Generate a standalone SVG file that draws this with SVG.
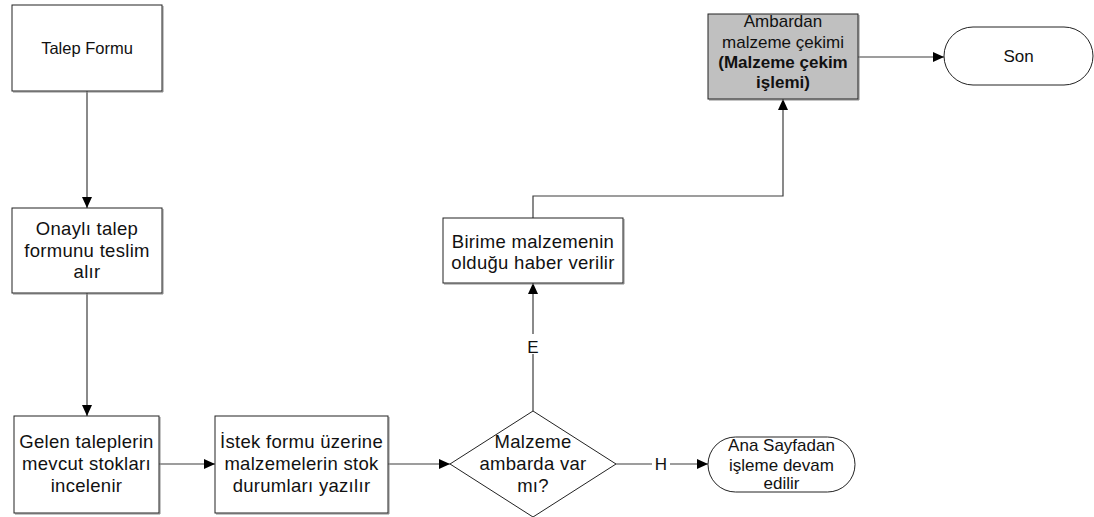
<svg xmlns="http://www.w3.org/2000/svg" width="1094" height="517" viewBox="0 0 1094 517">
  <style>
    .box { fill: #ffffff; stroke: #222222; stroke-width: 1; }
    .shadow { fill: none; stroke: #8a8a8a; stroke-width: 1; }
    .grey { fill: #c0c0c0; stroke: #222222; stroke-width: 1; }
    .term { fill: #ffffff; stroke: #222222; stroke-width: 1; }
    .txt { font-family: "Liberation Sans", Arial, sans-serif; font-size: 17px; fill: #111111; text-anchor: middle; }
    .wide { font-size: 18.5px; letter-spacing: 0.3px; }
    .bold { font-weight: bold; }
    .conn { fill: none; stroke: #3c3c3c; stroke-width: 1.2; }
    .lbl { font-family: "Liberation Sans", Arial, sans-serif; font-size: 17px; fill: #111111; text-anchor: middle; }
  </style>
  <defs>
    <marker id="arrow" markerWidth="12" markerHeight="10" refX="11" refY="5" orient="auto" markerUnits="userSpaceOnUse">
      <path d="M0,0 L11,5 L0,10 Z" fill="#000000"/>
    </marker>
  </defs>
  <rect width="1094" height="517" fill="#ffffff"/>

  <!-- connectors -->
  <g id="connectors">
    <path class="conn" d="M87,91 L87,208" marker-end="url(#arrow)"/>
    <path class="conn" d="M87,293 L87,416" marker-end="url(#arrow)"/>
    <path class="conn" d="M159,464 L215,464" marker-end="url(#arrow)"/>
    <path class="conn" d="M388,464 L450,464" marker-end="url(#arrow)"/>
    <path class="conn" d="M616,464 L708,464" marker-end="url(#arrow)"/>
    <path class="conn" d="M533,411 L533,283" marker-end="url(#arrow)"/>
    <path class="conn" d="M533,218 L533,196 L783,196 L783,99" marker-end="url(#arrow)"/>
    <path class="conn" d="M858,57 L944,57" marker-end="url(#arrow)"/>
    <rect x="524" y="334" width="18" height="20" fill="#ffffff"/>
    <text class="lbl" x="533" y="353">E</text>
    <rect x="652" y="454" width="18" height="20" fill="#ffffff"/>
    <text class="lbl" x="661" y="470">H</text>
  </g>

  <!-- nodes -->
  <g id="talep-formu">
    <path class="shadow" d="M163,6 L163,92 L13,92"/>
    <rect class="box" x="12" y="5" width="150" height="86"/>
    <text class="txt" x="87" y="54" style="font-size:16.5px">Talep Formu</text>
  </g>

  <g id="onayli-talep">
    <path class="shadow" d="M163,209 L163,294 L13,294"/>
    <rect class="box" x="12" y="208" width="150" height="85"/>
    <text class="txt wide" x="87" y="235">Onaylı talep</text>
    <text class="txt wide" x="87" y="257">formunu teslim</text>
    <text class="txt wide" x="87" y="278">alır</text>
  </g>

  <g id="gelen-talepler">
    <path class="shadow" d="M160,417 L160,514 L15,514"/>
    <rect class="box" x="14" y="416" width="145" height="97"/>
    <text class="txt wide" x="86.5" y="448">Gelen taleplerin</text>
    <text class="txt wide" x="86.5" y="470">mevcut stokları</text>
    <text class="txt wide" x="86.5" y="492">incelenir</text>
  </g>

  <g id="istek-formu">
    <path class="shadow" d="M389,417 L389,514 L216,514"/>
    <rect class="box" x="215" y="416" width="173" height="97"/>
    <text class="txt wide" x="301.5" y="448">İstek formu üzerine</text>
    <text class="txt wide" x="301.5" y="470">malzemelerin stok</text>
    <text class="txt wide" x="301.5" y="492">durumları yazılır</text>
  </g>

  <g id="malzeme-karar">
    <polygon class="box" points="450,464 533,411 616,464 533,517"/>
    <text class="txt wide" x="533" y="448">Malzeme</text>
    <text class="txt wide" x="533" y="470">ambarda var</text>
    <text class="txt wide" x="533" y="492">mı?</text>
  </g>

  <g id="ana-sayfa">
    <rect class="term" x="708" y="437" width="147" height="55" rx="27.5" ry="27.5"/>
    <text class="txt" x="781.5" y="451">Ana Sayfadan</text>
    <text class="txt" x="781.5" y="471">işleme devam</text>
    <text class="txt" x="781.5" y="489">edilir</text>
  </g>

  <g id="birime-haber">
    <path class="shadow" d="M624,219 L624,284 L444,284"/>
    <rect class="box" x="443" y="218" width="180" height="65"/>
    <text class="txt wide" x="533" y="248">Birime malzemenin</text>
    <text class="txt wide" x="533" y="269">olduğu haber verilir</text>
  </g>

  <g id="malzeme-cekimi">
    <path class="shadow" d="M859,15 L859,100 L709,100"/>
    <rect class="grey" x="708" y="14" width="150" height="85"/>
    <text class="txt" x="783" y="27">Ambardan</text>
    <text class="txt" x="783" y="48">malzeme çekimi</text>
    <text class="txt bold" x="783" y="68">(Malzeme çekim</text>
    <text class="txt bold" x="783" y="88">işlemi)</text>
  </g>

  <g id="son">
    <rect class="term" x="944" y="27" width="149" height="58" rx="29" ry="29"/>
    <text class="txt" x="1018.5" y="62">Son</text>
  </g>
</svg>
